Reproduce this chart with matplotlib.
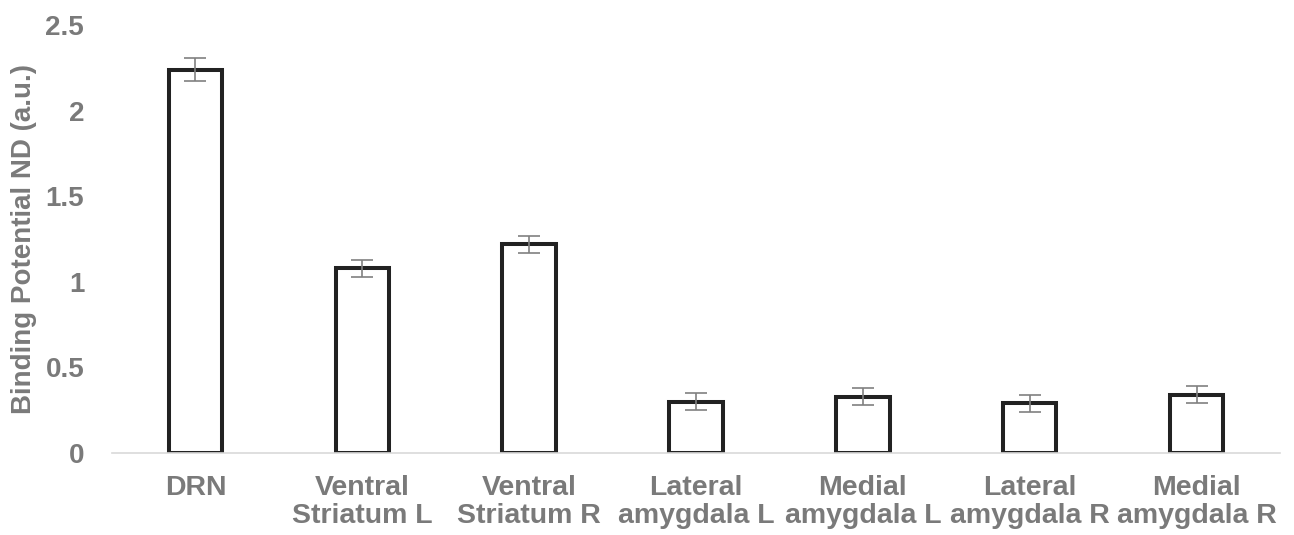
import matplotlib
matplotlib.use("Agg")
import matplotlib.pyplot as plt
import numpy as np

categories = ["DRN", "Ventral\nStriatum L", "Ventral\nStriatum R", "Lateral\namygdala L",
              "Medial\namygdala L", "Lateral\namygdala R", "Medial\namygdala R"]
values = [2.24, 1.08, 1.22, 0.30, 0.33, 0.29, 0.34]
errors = [0.07, 0.05, 0.05, 0.05, 0.05, 0.05, 0.05]
yticks = [0, 0.5, 1, 1.5, 2, 2.5]
ytick_labels = ["0", "0.5", "1", "1.5", "2", "2.5"]

plt.rcParams['font.family'] = ['Liberation Sans', 'DejaVu Sans']
gray = "#7a7a7a"

fig = plt.figure(figsize=(12.94, 5.35), dpi=100)
ax = fig.add_axes([112/1294, (535-453)/535, 1168/1294, (453-25)/535])

x = np.arange(len(categories))
ax.bar(x, values, width=0.32, facecolor="white", edgecolor="#222222", linewidth=2.9, zorder=2)
ax.errorbar(x, values, yerr=errors, fmt="none", ecolor="#808080", elinewidth=1.2,
            capsize=8, capthick=1.2, zorder=3)

ax.set_xlim(-0.5, len(categories) - 0.5)
ax.set_ylim(0, 2.5)
ax.set_yticks(yticks)
ax.set_yticklabels(ytick_labels)
ax.set_xticks(x)
ax.set_xticklabels(categories)
ax.tick_params(axis="both", length=0, labelcolor=gray)
ax.tick_params(axis="y", pad=20, labelsize=20)
ax.tick_params(axis="x", pad=16, labelsize=20.5)
for lbl in ax.get_xticklabels() + ax.get_yticklabels():
    lbl.set_fontweight("bold")
    lbl.set_linespacing(1.1)

for s in ["top", "right", "left"]:
    ax.spines[s].set_visible(False)
ax.spines["bottom"].set_color("#d9d9d9")
ax.spines["bottom"].set_linewidth(1.2)
ax.spines["bottom"].set_zorder(4)

ax.set_ylabel("Binding Potential ND (a.u.)", fontsize=20, fontweight="bold", color=gray, labelpad=6)

fig.savefig("out.png", dpi=100)
